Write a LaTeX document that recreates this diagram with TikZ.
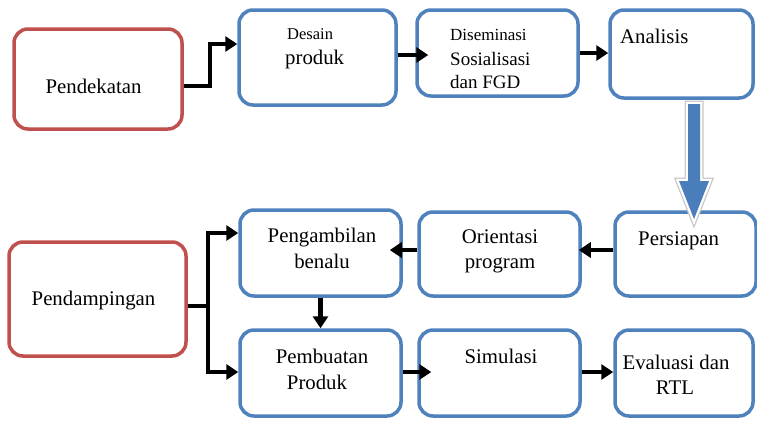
\documentclass[tikz,border=0pt]{standalone}
\usepackage{fontspec}
\setmainfont{Liberation Serif}
\usetikzlibrary{arrows.meta}
\definecolor{bbox}{HTML}{4F81BD}
\definecolor{rbox}{HTML}{C0504D}
\definecolor{bigblue}{HTML}{4A7EBB}
\begin{document}
\begin{tikzpicture}[x=1pt,y=-1pt,
  bluebox/.style={draw=bbox, line width=3.5pt, rounded corners=14pt, fill=white, inner sep=0pt},
  redbox/.style={draw=rbox, line width=3.5pt, rounded corners=14pt, fill=white, inner sep=0pt},
  lbl/.style={inner sep=0pt, font=\fontsize{20.8}{24}\selectfont, anchor=base},
  lblw/.style={lbl, anchor=base west},
  arr/.style={line width=4.2pt, -{Triangle[length=12pt,width=15pt]}},
  ln/.style={line width=4.2pt}]
\useasboundingbox (0,0) rectangle (757,421);

% boxes
\node[redbox, minimum width=168pt, minimum height=100pt] (pend) at (98,79) {};
\node[bluebox, minimum width=157pt, minimum height=95pt] (desain) at (317.5,57.5) {};
\node[bluebox, minimum width=161pt, minimum height=86pt] (disem) at (497.5,53) {};
\node[bluebox, minimum width=143pt, minimum height=88pt] (anal) at (681.5,54) {};
\node[bluebox, minimum width=141pt, minimum height=84pt] (pers) at (685.5,254) {};
\node[bluebox, minimum width=161pt, minimum height=84pt] (orient) at (499.5,254) {};
\node[bluebox, minimum width=161pt, minimum height=86pt] (ambil) at (320.5,253) {};
\node[redbox, minimum width=177pt, minimum height=114pt] (damp) at (97.5,299) {};
\node[bluebox, minimum width=161pt, minimum height=86pt] (buat) at (320.5,373) {};
\node[bluebox, minimum width=161pt, minimum height=86pt] (simul) at (499.5,373) {};
\node[bluebox, minimum width=138pt, minimum height=86pt] (eval) at (684,373) {};

% labels
\node[lbl] (tpend) at (93.5,93) {Pendekatan};
\node[lblw, font=\fontsize{16.5}{20}\selectfont] (tdes1) at (287,39) {Desain};
\node[lblw] (tdes2) at (285,64) {produk};
\node[lblw, font=\fontsize{17}{20}\selectfont] (tdis1) at (450,40) {Diseminasi};
\node[lblw, font=\fontsize{19}{22}\selectfont] (tdis2) at (450,65) {Sosialisasi};
\node[lblw, font=\fontsize{19}{22}\selectfont] (tdis3) at (450,88) {dan FGD};
\node[lblw] (tanal) at (620,43) {Analisis};
\node[lblw] (tpers) at (638,245) {Persiapan};
\node[lbl] (tor1) at (500,243) {Orientasi};
\node[lbl] (tor2) at (500,268) {program};
\node[lbl] (tam1) at (322,242) {Pengambilan};
\node[lbl] (tam2) at (322,268) {benalu};
\node[lbl] (tdamp) at (93.5,305) {Pendampingan};
\node[lbl] (tbu1) at (322,363) {Pembuatan};
\node[lbl] (tbu2) at (317,389) {Produk};
\node[lbl] (tsim) at (501,363) {Simulasi};
\node[lbl] (tev1) at (676,369) {Evaluasi dan};
\node[lbl] (tev2) at (675,394) {RTL};

% connectors
\draw[arr] (pend.east |- 0,86) -- (210,86) |- (desain.west |- 0,44);
\draw[arr, shorten >=-13pt] (desain.east |- 0,55) -- (disem.west |- 0,55);
\draw[arr] (disem.east |- 0,53) -- (anal.west |- 0,53);
\draw[arr, shorten >=-3pt] (pers.west |- 0,250) -- (orient.east |- 0,250);
\draw[arr, shorten >=-13pt] (orient.west |- 0,250) -- (ambil.east |- 0,250);
\coordinate (split) at (208,306);
\draw[ln] (damp.east |- split) -- (split);
\draw[arr] (split) |- (ambil.west |- 0,233);
\draw[arr] (split) |- (buat.west |- 0,372);
\draw[arr] (ambil.south) -- (buat.north);
\draw[arr, shorten >=-14pt] (buat.east |- 0,372) -- (simul.west |- 0,372);
\draw[arr] (simul.east |- 0,372) -- (eval.west |- 0,372);

% big block arrow from Analisis to Persiapan
\coordinate (bigtop) at (694,104);
\coordinate (bigtip) at (694,219);
\def\bigarrow{(688,104) -- (700,104) -- (700,181) -- (709,181) -- (bigtip) -- (679,181) -- (688,181) -- cycle}
\path[draw=gray!45, line width=7pt, line join=miter] \bigarrow;
\path[draw=white, line width=4.5pt, line join=miter] \bigarrow;
\path[fill=bigblue] \bigarrow;
\end{tikzpicture}
\end{document}
